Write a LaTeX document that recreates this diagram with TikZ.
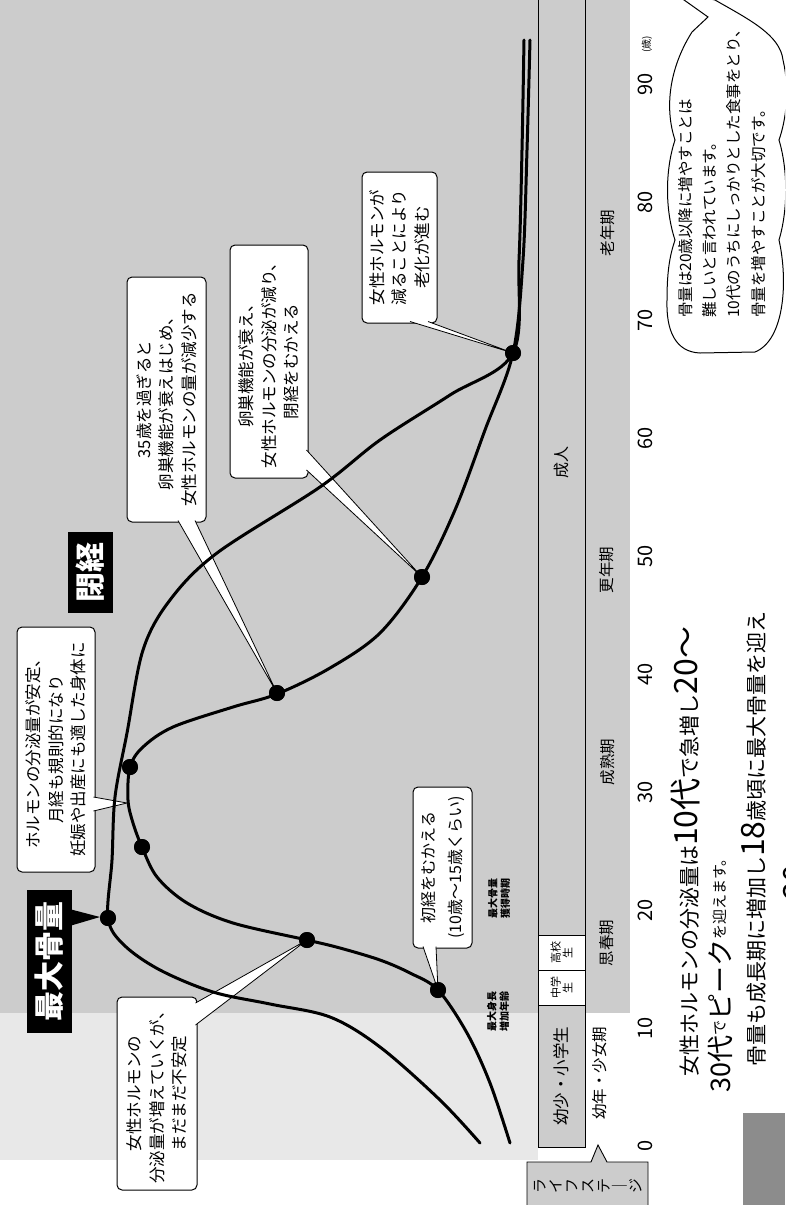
\documentclass[tikz,border=0pt]{standalone}
\usepackage{fontspec}
\setmainfont{Noto Sans CJK JP}
\usetikzlibrary{calc}
\newcommand\bigfs{\fontsize{32}{32}\selectfont}
\newcommand\calltail[3]{\fill[white] #1 -- #2 -- #3 -- cycle; \draw[line width=0.8pt] #1 -- #2 -- #3;}
\tikzset{
  curve/.style={line width=3pt, line cap=round, line join=round},
  dot/.style={circle, fill=black, inner sep=0pt, minimum size=16pt},
  callout/.style={draw, fill=white, rounded corners=5pt, line width=1pt, rotate=90, align=center, inner sep=0pt, font=\fontsize{16.5}{22.5}\selectfont},
  tagbox/.style={fill=black, text=white, rotate=90, inner sep=0pt, font=\fontsize{30}{30}\selectfont\bfseries},
  cell/.style={draw, line width=0.8pt, rotate=90, inner sep=0pt, align=center},
  period/.style={rotate=90, font=\fontsize{15.5}{15.5}\selectfont},
  tick/.style={rotate=90, font=\fontsize{20}{20}\selectfont},
  small/.style={rotate=90, align=center, font=\fontsize{10}{12.5}\selectfont\bfseries},
  line/.style={rotate=90, anchor=base west, inner sep=0pt, font=\fontsize{21}{21}\selectfont}
}
\begin{document}
\begin{tikzpicture}[x=1pt, y=-1pt]
\useasboundingbox (0,0) rectangle (785,1205);
\clip (0,0) rectangle (785,1205);
\fill[white] (0,0) rectangle (785,1205);
\fill[black!20] (0,0) rectangle (630,1013);
\fill[black!9] (0,1013) rectangle (538,1160);
\fill[black!45] (743,1113) rectangle (785,1205);

% life stages
\node[cell, fill=black!20, minimum width=945pt, minimum height=47pt, font=\fontsize{16}{16}\selectfont] (adult) at (561.5,462.5) {成人};
\node[cell, fill=white, minimum width=35pt, minimum height=47pt, font=\fontsize{11}{12}\selectfont] (high) at (561.5,952.5) {高校\\生};
\node[cell, fill=white, minimum width=35pt, minimum height=47pt, font=\fontsize{11}{12}\selectfont] (junior) at (561.5,987.5) {中学\\生};
\node[cell, fill=black!20, minimum width=142pt, minimum height=47pt, font=\fontsize{16.5}{16.5}\selectfont] (child) at (561.5,1076) {幼少・小学生};
\draw[line width=0.9pt, fill=black!20] (527,1215) -- (527,1162) -- (591,1162) -- (598,1145) -- (607,1162) -- (648,1162) -- (648,1215);
\node[rotate=90, align=center, inner sep=0pt, font=\fontsize{15}{16}\selectfont] (lifestage) at (588,1186) {ラ\\イ\\フ\\ス\\テ\\｜\\ジ};

\node[period] (p0) at (600,1073) {幼年・少女期};
\node[period] (p1) at (607,943) {思春期};
\node[period] (p2) at (608,762) {成熟期};
\node[period] (p3) at (607,570) {更年期};
\node[period] (p4) at (608,233) {老年期};
\foreach \a in {0,10,...,90}
  \node[tick] (t\a) at (645,{1146-11.8*\a}) {\a};
\node[rotate=90, font=\fontsize{10}{10}\selectfont] (unit) at (647,44) {(歳)};

\node[small] (height) at (498,1011) {最大身長\\増加年齢};
\node[small] (gain) at (499,898) {最大骨量\\獲得時期};

% callouts
\node[callout, minimum width=245pt, minimum height=78pt] (c1) at (56,749.5) {ホルモンの分泌量が安定、\\月経も規則的になり\\妊娠や出産にも適した身体に};
\node[callout, minimum width=245pt, minimum height=79pt] (c2) at (166.5,399.5) {35歳を過ぎると\\卵巣機能が衰えはじめ、\\女性ホルモンの量が減少する};
\node[callout, minimum width=233pt, minimum height=78pt] (c3) at (269,361.5) {卵巣機能が衰え、\\女性ホルモンの分泌が減り、\\閉経をむかえる};
\node[callout, minimum width=151pt, minimum height=75pt] (c4) at (399.5,247.5) {女性ホルモンが\\減ることにより\\老化が進む};
\node[callout, minimum width=161pt, minimum height=59pt, font=\fontsize{16}{27}\selectfont] (c5) at (442.5,867.5) {初経をむかえる\\(10歳〜15歳くらい)};
\node[callout, minimum width=193pt, minimum height=80pt] (c6) at (157,1093.5) {女性ホルモンの\\分泌量が増えていくが、\\まだまだ不安定};

\coordinate (peak) at (127,803);
\node[dot] (d1) at (438,990) {};
\node[dot] (d2) at (307,940) {};
\node[dot] (d3) at (108,918) {};
\node[dot] (d4) at (142,847) {};
\node[dot] (d5) at (130,767) {};
\node[dot] (d6) at (277,693) {};
\node[dot] (d7) at (422,577) {};
\node[dot] (d8) at (513,353) {};

\calltail{(93.5,797)}{(peak)}{(93.5,811)}
\calltail{(178,520.5)}{(d6.center)}{(195,520.5)}
\calltail{(306.5,450)}{(d7.center)}{(306.5,470)}
\calltail{(410,321.5)}{(d8.center)}{(428,321.5)}
\calltail{(423,946.5)}{(d1.center)}{(436,946.5)}
\calltail{(195.5,1003)}{(d2.center)}{(195.5,1025)}

\draw[curve] plot[smooth, tension=0.55] coordinates {(480,1143) (440,1100) (380,1047) (330,1017) (270,1004) (213,992) (160,970) (124,945) (108,918) (112,860) (115,797) (127,733) (143,650) (170,600) (217,553) (320,487) (380,440) (450,395) (513,353) (519,260) (522,150) (524,40)};
\draw[curve] plot[smooth, tension=0.55] coordinates {(510,1143) (490,1083) (467,1033) (438,990) (410,973) (380,960) (340,948) (307,940) (233,923) (187,903) (157,877) (142,847) (133,823) (128,800) (130,767) (143,747) (173,727) (233,707) (277,694) (330,668) (380,633) (422,577) (455,510) (485,430) (513,353) (523,260) (527,150) (530,40)};
\foreach \d in {d1,d2,d3,d4,d5,d6,d7,d8}
  \fill (\d) circle (8pt);

% tags
\node[tagbox, minimum width=143pt, minimum height=45pt] (maxbone) at (49.5,961.5) {最大骨量};
\fill ($(maxbone.south)+(-1,-52)$) -- (100,917) -- ($(maxbone.south)+(-1,-36)$) -- cycle;
\node[tagbox, minimum width=81pt, minimum height=45pt] (meno) at (90.5,572.5) {閉経};

% note bubble
\draw[fill=white, line width=1pt] (708,17) -- (670,-10) -- (715,0) .. controls (750,20) and (780,35) .. (783,60)
  .. controls (790,90) and (786,120) .. (779,140)
  .. controls (788,170) and (788,210) .. (779,240)
  .. controls (788,280) and (785,340) .. (755,352)
  -- (700,353) .. controls (675,352) and (666,330) .. (667,300)
  .. controls (667,270) and (670,255) .. (675,240)
  .. controls (665,210) and (665,170) .. (675,140)
  .. controls (665,110) and (668,70) .. (692,32) -- cycle;
\node[rotate=90, anchor=north west, align=left, inner sep=0pt, font=\fontsize{15.5}{24.3}\selectfont] (note) at (678,318) {骨量は20歳以降に増やすことは\\難しいと言われています。\\10代のうちにしっかりとした食事をとり、\\骨量を増やすことが大切です。};

% summary text
\node[line] (s1) at (697,1077) {女性ホルモンの分泌量は{\bigfs 10代}で急増し{\bigfs 20〜}};
\node[line] (s2) at (730,1093) {{\fontsize{27}{27}\selectfont 30代}\raisebox{5pt}{\fontsize{15}{15}\selectfont で}{\fontsize{27}{27}\selectfont ピーク}\raisebox{5pt}{\fontsize{15}{15}\selectfont を迎えます。}};
\node[line] (s3) at (764,1067) {骨量も成長期に増加し{\bigfs 18}歳頃に最大骨量を迎え};
\node[line] (s4) at (806,900) {\bigfs 20};
\end{tikzpicture}
\end{document}
